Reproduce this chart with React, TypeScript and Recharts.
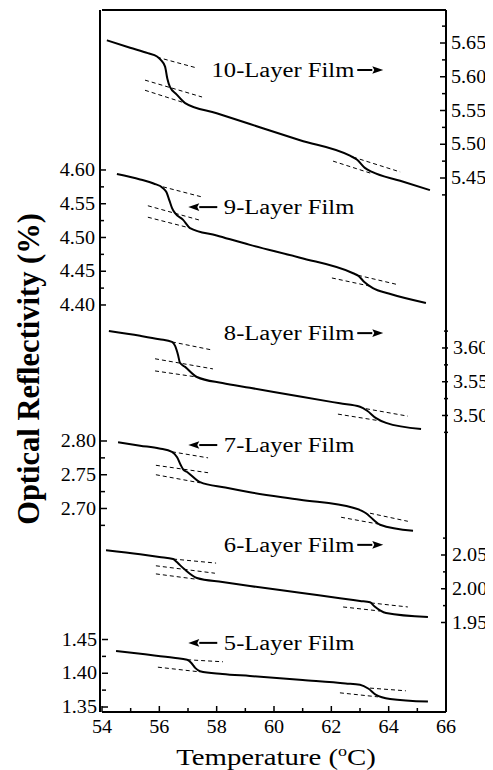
import React from 'react';
import { ComposedChart, Line, XAxis, YAxis, ReferenceDot } from 'recharts';

type P = { t: number; v: number };

const SERIF = '"Liberation Serif", "Times New Roman", serif';
const INK = '#000';

// x axis ticks (°C)
const xTicks = [54, 55, 56, 57, 58, 59, 60, 61, 62, 63, 64, 65, 66];

// y tick values per axis
const ticks9 = [4.4, 4.425, 4.45, 4.475, 4.5, 4.525, 4.55, 4.575, 4.6];
const ticks7 = [2.675, 2.7, 2.725, 2.75, 2.775, 2.8];
const ticks5 = [1.35, 1.375, 1.4, 1.425, 1.45];
const ticks10 = [5.425, 5.45, 5.475, 5.5, 5.525, 5.55, 5.575, 5.6, 5.625, 5.65, 5.675];
const ticks8 = [3.475, 3.5, 3.525, 3.55, 3.575, 3.6, 3.625];
const ticks6 = [1.95, 1.975, 2.0, 2.025, 2.05, 2.075];

// axis tops (value at top of plot) and common span
const SPAN = 1.04;
const top9 = 4.837;
const top7 = 3.4385;
const top5 = 2.3826;
const top10 = 5.6989;
const top8 = 4.1007;
const top6 = 2.8574;

// main curves
const film10: P[] = [
  { t: 54.17, v: 5.654 }, { t: 54.98, v: 5.643 }, { t: 55.6, v: 5.635 }, { t: 55.92, v: 5.63 },
  { t: 56.05, v: 5.625 }, { t: 56.2, v: 5.615 }, { t: 56.28, v: 5.597 }, { t: 56.37, v: 5.585 },
  { t: 56.6, v: 5.574 }, { t: 56.9, v: 5.561 }, { t: 58.0, v: 5.546 }, { t: 59.16, v: 5.53 },
  { t: 60.91, v: 5.506 }, { t: 62.65, v: 5.483 }, { t: 62.9, v: 5.477 }, { t: 63.17, v: 5.465 },
  { t: 63.42, v: 5.459 }, { t: 64.4, v: 5.446 }, { t: 65.44, v: 5.432 },
];
const film9: P[] = [
  { t: 54.52, v: 4.594 }, { t: 55.33, v: 4.586 }, { t: 55.8, v: 4.58 }, { t: 56.13, v: 4.573 },
  { t: 56.25, v: 4.567 }, { t: 56.35, v: 4.555 }, { t: 56.44, v: 4.544 }, { t: 56.55, v: 4.536 },
  { t: 56.83, v: 4.526 }, { t: 57.07, v: 4.514 }, { t: 58.0, v: 4.503 }, { t: 59.16, v: 4.489 },
  { t: 60.91, v: 4.47 }, { t: 62.76, v: 4.447 }, { t: 62.95, v: 4.443 }, { t: 63.15, v: 4.434 },
  { t: 63.45, v: 4.425 }, { t: 64.0, v: 4.417 }, { t: 65.3, v: 4.403 },
];
const film8: P[] = [
  { t: 54.24, v: 3.625 }, { t: 55.33, v: 3.618 }, { t: 56.0, v: 3.613 }, { t: 56.44, v: 3.609 },
  { t: 56.55, v: 3.603 }, { t: 56.65, v: 3.59 }, { t: 56.72, v: 3.578 }, { t: 56.9, v: 3.572 },
  { t: 57.31, v: 3.557 }, { t: 58.2, v: 3.548 }, { t: 59.16, v: 3.541 }, { t: 60.91, v: 3.528 },
  { t: 62.3, v: 3.518 }, { t: 63.0, v: 3.513 }, { t: 63.25, v: 3.507 }, { t: 63.56, v: 3.496 },
  { t: 63.91, v: 3.489 }, { t: 65.13, v: 3.48 },
];
const film7: P[] = [
  { t: 54.56, v: 2.798 }, { t: 55.33, v: 2.793 }, { t: 56.0, v: 2.789 }, { t: 56.44, v: 2.784 },
  { t: 56.62, v: 2.776 }, { t: 56.75, v: 2.764 }, { t: 56.83, v: 2.758 }, { t: 56.97, v: 2.754 },
  { t: 57.42, v: 2.739 }, { t: 58.3, v: 2.731 }, { t: 59.16, v: 2.724 }, { t: 60.91, v: 2.713 },
  { t: 62.76, v: 2.701 }, { t: 63.21, v: 2.693 }, { t: 63.45, v: 2.684 }, { t: 63.7, v: 2.676 },
  { t: 64.85, v: 2.667 },
];
const film6: P[] = [
  { t: 54.14, v: 2.057 }, { t: 55.33, v: 2.051 }, { t: 56.0, v: 2.047 }, { t: 56.48, v: 2.044 },
  { t: 56.6, v: 2.04 }, { t: 56.72, v: 2.035 }, { t: 56.9, v: 2.028 }, { t: 57.31, v: 2.016 },
  { t: 58.2, v: 2.01 }, { t: 59.16, v: 2.004 }, { t: 60.91, v: 1.994 }, { t: 62.3, v: 1.986 },
  { t: 63.0, v: 1.982 }, { t: 63.35, v: 1.98 }, { t: 63.5, v: 1.974 }, { t: 63.7, v: 1.968 },
  { t: 63.91, v: 1.964 }, { t: 65.37, v: 1.958 },
];
const film5: P[] = [
  { t: 54.49, v: 1.433 }, { t: 55.5, v: 1.428 }, { t: 56.5, v: 1.423 }, { t: 56.97, v: 1.42 },
  { t: 57.1, v: 1.416 }, { t: 57.25, v: 1.408 }, { t: 57.42, v: 1.403 }, { t: 58.2, v: 1.399 },
  { t: 59.16, v: 1.396 }, { t: 61.0, v: 1.39 }, { t: 62.5, v: 1.385 }, { t: 63.0, v: 1.383 },
  { t: 63.3, v: 1.377 }, { t: 63.56, v: 1.368 }, { t: 64.05, v: 1.362 }, { t: 65.37, v: 1.358 },
];

// dashed tangent guides
const d10a: P[] = [{ t: 55.92, v: 5.629 }, { t: 57.31, v: 5.613 }];
const d10b: P[] = [{ t: 55.5, v: 5.595 }, { t: 57.49, v: 5.57 }];
const d10c: P[] = [{ t: 55.5, v: 5.58 }, { t: 56.9, v: 5.561 }];
const d10d: P[] = [{ t: 62.76, v: 5.481 }, { t: 64.4, v: 5.459 }];
const d10e: P[] = [{ t: 62.06, v: 5.475 }, { t: 63.38, v: 5.457 }];

const d9a: P[] = [{ t: 56.13, v: 4.575 }, { t: 57.49, v: 4.56 }];
const d9b: P[] = [{ t: 55.6, v: 4.547 }, { t: 57.38, v: 4.526 }];
const d9c: P[] = [{ t: 55.6, v: 4.53 }, { t: 57.07, v: 4.514 }];
const d9d: P[] = [{ t: 62.93, v: 4.444 }, { t: 64.33, v: 4.43 }];
const d9e: P[] = [{ t: 62.02, v: 4.44 }, { t: 63.45, v: 4.427 }];

const d8a: P[] = [{ t: 56.44, v: 3.609 }, { t: 57.84, v: 3.597 }];
const d8b: P[] = [{ t: 55.85, v: 3.584 }, { t: 57.87, v: 3.569 }];
const d8c: P[] = [{ t: 55.85, v: 3.566 }, { t: 57.31, v: 3.557 }];
const d8d: P[] = [{ t: 63.21, v: 3.51 }, { t: 64.67, v: 3.499 }];
const d8e: P[] = [{ t: 62.23, v: 3.502 }, { t: 63.7, v: 3.492 }];

const d7a: P[] = [{ t: 56.44, v: 2.784 }, { t: 57.7, v: 2.775 }];
const d7b: P[] = [{ t: 55.88, v: 2.764 }, { t: 57.7, v: 2.753 }];
const d7c: P[] = [{ t: 55.88, v: 2.75 }, { t: 57.42, v: 2.738 }];
const d7d: P[] = [{ t: 63.35, v: 2.693 }, { t: 64.67, v: 2.681 }];
const d7e: P[] = [{ t: 62.34, v: 2.687 }, { t: 63.63, v: 2.677 }];

const d6a: P[] = [{ t: 56.48, v: 2.044 }, { t: 57.98, v: 2.038 }];
const d6b: P[] = [{ t: 55.88, v: 2.034 }, { t: 57.94, v: 2.023 }];
const d6c: P[] = [{ t: 55.88, v: 2.022 }, { t: 57.31, v: 2.014 }];
const d6d: P[] = [{ t: 63.38, v: 1.979 }, { t: 64.67, v: 1.973 }];
const d6e: P[] = [{ t: 62.41, v: 1.973 }, { t: 63.7, v: 1.967 }];

const d5a: P[] = [{ t: 56.97, v: 1.42 }, { t: 58.22, v: 1.417 }];
const d5b: P[] = [{ t: 55.95, v: 1.409 }, { t: 57.42, v: 1.402 }];
const d5d: P[] = [{ t: 63.35, v: 1.378 }, { t: 64.6, v: 1.374 }];
const d5e: P[] = [{ t: 62.3, v: 1.371 }, { t: 63.63, v: 1.365 }];

// film labels
const filmLabels = [
  { text: '10-Layer Film', axis: 'R10', t: 62.8, v: 5.61, dir: 'right' },
  { text: '9-Layer Film', axis: 'L9', t: 62.8, v: 4.545, dir: 'left' },
  { text: '8-Layer Film', axis: 'R8', t: 62.8, v: 3.622, dir: 'right' },
  { text: '7-Layer Film', axis: 'L7', t: 62.8, v: 2.794, dir: 'left' },
  { text: '6-Layer Film', axis: 'R6', t: 62.8, v: 2.065, dir: 'right' },
  { text: '5-Layer Film', axis: 'L5', t: 62.8, v: 1.445, dir: 'left' },
];

const mainSeries = [
  { id: 'f10', axis: 'R10', data: film10 },
  { id: 'f9', axis: 'L9', data: film9 },
  { id: 'f8', axis: 'R8', data: film8 },
  { id: 'f7', axis: 'L7', data: film7 },
  { id: 'f6', axis: 'R6', data: film6 },
  { id: 'f5', axis: 'L5', data: film5 },
];

const dashSeries = [
  { id: 'd10a', axis: 'R10', data: d10a }, { id: 'd10b', axis: 'R10', data: d10b },
  { id: 'd10c', axis: 'R10', data: d10c }, { id: 'd10d', axis: 'R10', data: d10d },
  { id: 'd10e', axis: 'R10', data: d10e },
  { id: 'd9a', axis: 'L9', data: d9a }, { id: 'd9b', axis: 'L9', data: d9b },
  { id: 'd9c', axis: 'L9', data: d9c }, { id: 'd9d', axis: 'L9', data: d9d },
  { id: 'd9e', axis: 'L9', data: d9e },
  { id: 'd8a', axis: 'R8', data: d8a }, { id: 'd8b', axis: 'R8', data: d8b },
  { id: 'd8c', axis: 'R8', data: d8c }, { id: 'd8d', axis: 'R8', data: d8d },
  { id: 'd8e', axis: 'R8', data: d8e },
  { id: 'd7a', axis: 'L7', data: d7a }, { id: 'd7b', axis: 'L7', data: d7b },
  { id: 'd7c', axis: 'L7', data: d7c }, { id: 'd7d', axis: 'L7', data: d7d },
  { id: 'd7e', axis: 'L7', data: d7e },
  { id: 'd6a', axis: 'R6', data: d6a }, { id: 'd6b', axis: 'R6', data: d6b },
  { id: 'd6c', axis: 'R6', data: d6c }, { id: 'd6d', axis: 'R6', data: d6d },
  { id: 'd6e', axis: 'R6', data: d6e },
  { id: 'd5a', axis: 'L5', data: d5a }, { id: 'd5b', axis: 'L5', data: d5b },
  { id: 'd5d', axis: 'L5', data: d5d }, { id: 'd5e', axis: 'L5', data: d5e },
];

const TM = 5;
const SX = 1.12;
const isMajor = (v: number, step: number) => Math.abs(v / step - Math.round(v / step)) < 1e-6;

function LeftTick(props: any) {
  const { x, y, payload } = props;
  const v = payload.value as number;
  const major = isMajor(v, 0.05);
  const ax = x + TM;
  return (
    <g>
      <line x1={ax} x2={ax + (major ? 6 : 4)} y1={y} y2={y} stroke={INK} strokeWidth={1.5} />
      {major && (
        <text transform={`translate(${x},${y}) scale(${SX},1)`} textAnchor="end" dominantBaseline="central"
          fontSize={18} fontFamily={SERIF} fill={INK}>{v.toFixed(2)}</text>
      )}
    </g>
  );
}

function RightTick(props: any) {
  const { x, y, payload } = props;
  const v = payload.value as number;
  const major = isMajor(v, 0.05);
  const ax = x - TM;
  return (
    <g>
      <line x1={ax} x2={ax - (major ? 6 : 4)} y1={y} y2={y} stroke={INK} strokeWidth={1.5} />
      {major && (
        <text transform={`translate(${x},${y}) scale(${SX},1)`} textAnchor="start" dominantBaseline="central"
          fontSize={18} fontFamily={SERIF} fill={INK}>{v.toFixed(2)}</text>
      )}
    </g>
  );
}

const XM = 8;
function BottomTick(props: any) {
  const { x, y, payload } = props;
  const v = payload.value as number;
  const major = isMajor(v, 2);
  const ay = y - XM;
  return (
    <g>
      <line x1={x} x2={x} y1={ay} y2={ay - (major ? 6 : 4)} stroke={INK} strokeWidth={1.5} />
      {major && (
        <text transform={`translate(${x},${y + 13}) scale(${SX},1)`} textAnchor="middle"
          fontSize={18} fontFamily={SERIF} fill={INK}>{String(v)}</text>
      )}
    </g>
  );
}

function FilmMark({ cx, cy, text, dir }: { cx: number; cy: number; text: string; dir: string }) {
  const arrow = dir === 'right'
    ? { tail: cx + 3, tip: cx + 29 }
    : { tail: cx - 137, tip: cx - 166 };
  const s = dir === 'right' ? 1 : -1;
  const headBase = arrow.tip - s * 11;
  return (
    <g>
      <text transform={`translate(${cx},${cy}) scale(1.23,1)`} textAnchor="end" dominantBaseline="central"
        fontSize={20} fontFamily={SERIF} fill={INK}>{text}</text>
      <line x1={arrow.tail} x2={headBase} y1={cy} y2={cy} stroke={INK} strokeWidth={2} />
      <path d={`M${arrow.tip},${cy} L${headBase},${cy - 3.8} L${headBase + s * 2},${cy} L${headBase},${cy + 3.8} Z`} fill={INK} />
    </g>
  );
}

const YLabel = (props: any) => {
  const vb = props.viewBox || {};
  const cx = vb.x + vb.width - 71;
  const cy = vb.y + vb.height / 2 + 8;
  return (
    <text transform={`translate(${cx},${cy}) rotate(-90)`} textAnchor="middle" dominantBaseline="central"
      fontSize={30.5} fontWeight="bold" fontFamily={SERIF} fill={INK}>Optical Reflectivity (%)</text>
  );
};

const XLabel = (props: any) => {
  const vb = props.viewBox || {};
  const cx = vb.x + vb.width / 2 + 2;
  const by = vb.y + 53;
  return (
    <text transform={`translate(${cx},${by}) scale(1.2,1)`} textAnchor="middle"
      fontSize={24} fontFamily={SERIF} fill={INK}>
      Temperature (<tspan dy={-9} fontSize={15}>o</tspan><tspan dy={9}>C)</tspan>
    </text>
  );
};

export default function App() {
  const axisLine = { stroke: INK, strokeWidth: 2 };
  const yCommon = {
    type: 'number' as const,
    width: 1,
    tickSize: 0,
    tickMargin: TM,
    tickLine: false,
    interval: 0 as const,
    allowDataOverflow: true,
  };
  return (
    <ComposedChart width={485} height={762} margin={{ top: 1, right: 44, bottom: 57, left: 91 }}>
      <XAxis xAxisId="b" type="number" dataKey="t" domain={[54, 66]} ticks={xTicks} interval={0}
        allowDataOverflow height={1} tickSize={0} tickMargin={XM} tickLine={false}
        tick={<BottomTick />} axisLine={axisLine} label={<XLabel />} />
      <XAxis xAxisId="top" orientation="top" type="number" domain={[54, 66]} height={1}
        ticks={[54, 66]} tick={false} tickLine={false} axisLine={axisLine} />
      <YAxis yAxisId="L9" orientation="left" {...yCommon} domain={[top9 - SPAN, top9]} ticks={ticks9}
        tick={<LeftTick />} axisLine={axisLine} label={<YLabel />} />
      <YAxis yAxisId="L7" orientation="left" {...yCommon} domain={[top7 - SPAN, top7]} ticks={ticks7}
        tick={<LeftTick />} axisLine={false} />
      <YAxis yAxisId="L5" orientation="left" {...yCommon} domain={[top5 - SPAN, top5]} ticks={ticks5}
        tick={<LeftTick />} axisLine={false} />
      <YAxis yAxisId="R10" orientation="right" {...yCommon} domain={[top10 - SPAN, top10]} ticks={ticks10}
        tick={<RightTick />} axisLine={axisLine} />
      <YAxis yAxisId="R8" orientation="right" {...yCommon} domain={[top8 - SPAN, top8]} ticks={ticks8}
        tick={<RightTick />} axisLine={false} />
      <YAxis yAxisId="R6" orientation="right" {...yCommon} domain={[top6 - SPAN, top6]} ticks={ticks6}
        tick={<RightTick />} axisLine={false} />

      {dashSeries.map((s) => (
        <Line key={s.id} xAxisId="b" yAxisId={s.axis} data={s.data} dataKey="v" type="linear"
          stroke={INK} strokeWidth={1} strokeDasharray="4 3" dot={false} activeDot={false}
          isAnimationActive={false} />
      ))}
      {mainSeries.map((s) => (
        <Line key={s.id} xAxisId="b" yAxisId={s.axis} data={s.data} dataKey="v" type="monotone"
          stroke={INK} strokeWidth={2} dot={false} activeDot={false} isAnimationActive={false} />
      ))}
      {filmLabels.map((f) => (
        <ReferenceDot key={f.text} xAxisId="b" yAxisId={f.axis} x={f.t} y={f.v} r={0} ifOverflow="visible"
          shape={(p: any) => <FilmMark cx={p.cx} cy={p.cy} text={f.text} dir={f.dir} />} />
      ))}
    </ComposedChart>
  );
}
